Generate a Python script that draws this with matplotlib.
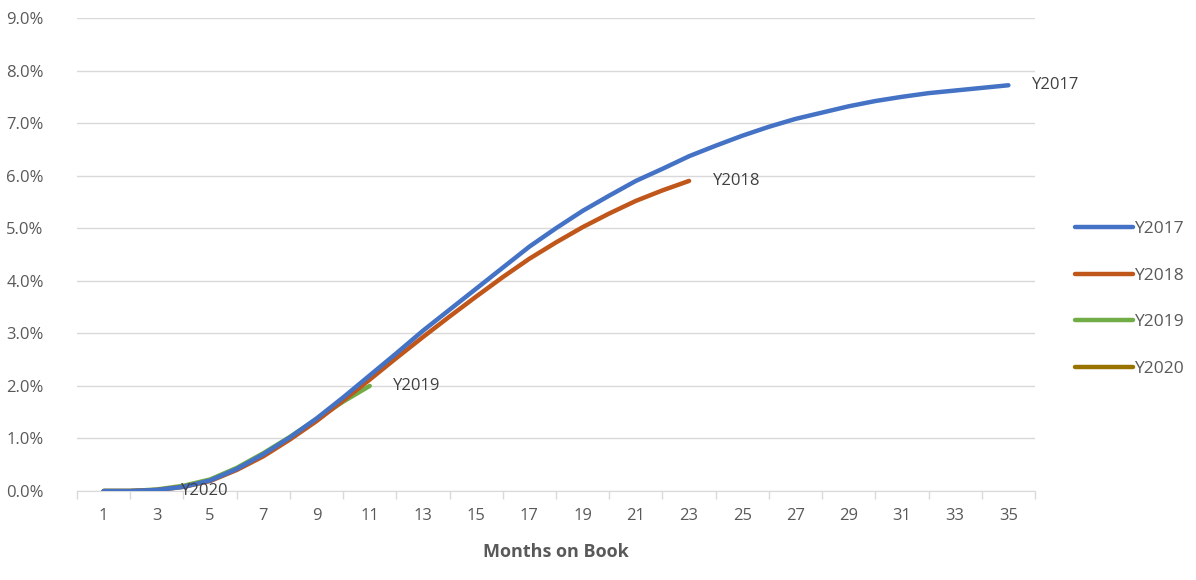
import matplotlib
matplotlib.use("Agg")
import matplotlib.pyplot as plt
from matplotlib.ticker import FuncFormatter

months = list(range(1, 36))

y2017 = [0.0, 0.0, 0.02, 0.08, 0.2, 0.42, 0.7, 1.02, 1.38, 1.78, 2.2, 2.62, 3.05, 3.45,
         3.85, 4.25, 4.65, 5.0, 5.33, 5.62, 5.9, 6.13, 6.37, 6.57, 6.76, 6.93, 7.08,
         7.2, 7.32, 7.42, 7.5, 7.57, 7.62, 7.67, 7.72]
y2018 = [0.0, 0.0, 0.02, 0.08, 0.19, 0.4, 0.66, 0.98, 1.33, 1.72, 2.12, 2.53, 2.93,
         3.32, 3.7, 4.07, 4.42, 4.73, 5.02, 5.28, 5.52, 5.72, 5.9]
y2019 = [0.0, 0.0, 0.03, 0.1, 0.22, 0.44, 0.72, 1.03, 1.37, 1.7, 2.0]
y2020 = [0.0, 0.0, 0.01]

series = [
    ("Y2017", y2017, "#4472C4"),
    ("Y2018", y2018, "#C0561A"),
    ("Y2019", y2019, "#70AD47"),
    ("Y2020", y2020, "#997300"),
]

plt.rcParams["font.family"] = ["Open Sans", "DejaVu Sans"]
text_grey = "#595959"

fig = plt.figure(figsize=(11.96, 5.80), dpi=100)
ax = fig.add_axes([0.0644, 0.1534, 0.801, 0.8156])

# draw later series first so Y2017 ends up on top like the original
for name, vals, color in reversed(series):
    ax.plot(months[:len(vals)], vals, color=color, linewidth=3.2,
            solid_capstyle="round", label=name, zorder=3)

for name, vals, color in series:
    ax.annotate(name, (len(vals), vals[-1]), xytext=(17, 0), textcoords="offset points",
                va="center", ha="left", fontsize=12, color="#404040")

ax.set_xlim(0, 36)
ax.set_ylim(0, 9)
ax.set_yticks(range(0, 10))
ax.yaxis.set_major_formatter(FuncFormatter(lambda v, _: f"{v:.1f}%"))

ax.set_xticks(range(0, 37, 2))
ax.set_xticklabels([])
ax.set_xticks(range(1, 36, 2), minor=True)
ax.set_xticklabels([str(m) for m in range(1, 36, 2)], minor=True)
ax.tick_params(axis="x", which="major", length=6, color="#D9D9D9", width=1)
ax.tick_params(axis="x", which="minor", length=0, pad=12, labelsize=12, labelcolor=text_grey)
ax.tick_params(axis="y", length=0, pad=24, labelsize=12, labelcolor=text_grey)

ax.grid(axis="y", color="#D9D9D9", linewidth=1)
ax.set_axisbelow(True)
for side in ["top", "right", "left"]:
    ax.spines[side].set_visible(False)
ax.spines["bottom"].set_color("#D9D9D9")
ax.spines["bottom"].set_zorder(2)

ax.set_xlabel("Months on Book", fontsize=13, fontweight="bold", color=text_grey, labelpad=14)

handles, labels = ax.get_legend_handles_labels()
order = [labels.index(s[0]) for s in series]
fig.legend([handles[i] for i in order], [labels[i] for i in order],
           loc="center left", bbox_to_anchor=(0.886, 0.4845), frameon=False,
           fontsize=12.5, handlelength=3.3, handletextpad=0.1, labelspacing=1.75,
           labelcolor=text_grey)

fig.savefig("out.png", dpi=100)
